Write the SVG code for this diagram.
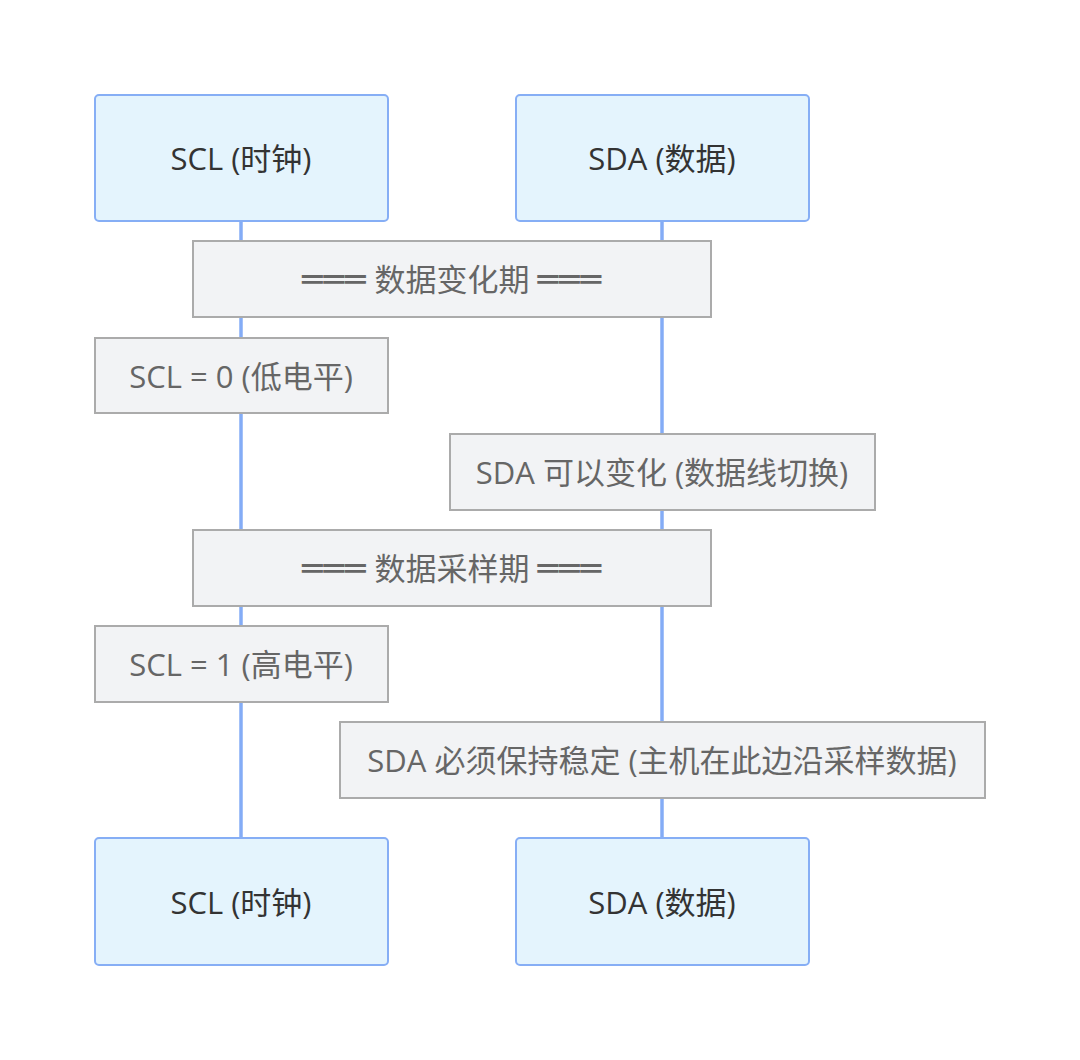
<svg xmlns="http://www.w3.org/2000/svg" width="1080" height="1060" viewBox="0 0 1080 1060">
<style>
.actor{fill:#e4f4fd;stroke:#86aef5;stroke-width:2}
.note{fill:#f2f3f5;stroke:#ababab;stroke-width:2}
.life{stroke:#84acf6;stroke-width:3.5}
.at{font-family:"Open Sans","Noto Sans CJK SC",sans-serif;font-size:31px;fill:#333;text-anchor:middle;dominant-baseline:central}
.nt{font-family:"Open Sans","Noto Sans CJK SC",sans-serif;font-size:31px;fill:#666;text-anchor:middle;dominant-baseline:central}
.bx{font-family:"DejaVu Sans Mono",monospace;font-size:34px;letter-spacing:1px}
</style>
<rect width="1080" height="1060" fill="#fff"/>
<g id="connectors">
<line class="life" x1="241" y1="221" x2="241" y2="838"/>
<line class="life" x1="662" y1="221" x2="662" y2="838"/>
</g>
<g id="scl-top"><rect class="actor" x="95" y="95" width="293" height="126" rx="4"/><text class="at" x="241" y="158">SCL (时钟)</text></g>
<g id="sda-top"><rect class="actor" x="516" y="95" width="293" height="126" rx="4"/><text class="at" x="662" y="158">SDA (数据)</text></g>
<g id="note1"><rect class="note" x="193" y="241" width="518" height="76"/><text class="nt" x="452" y="279"><tspan class="bx">═══</tspan> 数据变化期 <tspan class="bx">═══</tspan></text></g>
<g id="note2"><rect class="note" x="95" y="338" width="293" height="75"/><text class="nt" x="241" y="376">SCL = 0 (低电平)</text></g>
<g id="note3"><rect class="note" x="450" y="434" width="425" height="76"/><text class="nt" x="662" y="472">SDA 可以变化 (数据线切换)</text></g>
<g id="note4"><rect class="note" x="193" y="530" width="518" height="76"/><text class="nt" x="452" y="568"><tspan class="bx">═══</tspan> 数据采样期 <tspan class="bx">═══</tspan></text></g>
<g id="note5"><rect class="note" x="95" y="626" width="293" height="76"/><text class="nt" x="241" y="664">SCL = 1 (高电平)</text></g>
<g id="note6"><rect class="note" x="340" y="722" width="645" height="76"/><text class="nt" x="662" y="760">SDA 必须保持稳定 (主机在此边沿采样数据)</text></g>
<g id="scl-bottom"><rect class="actor" x="95" y="838" width="293" height="127" rx="4"/><text class="at" x="241" y="902">SCL (时钟)</text></g>
<g id="sda-bottom"><rect class="actor" x="516" y="838" width="293" height="127" rx="4"/><text class="at" x="662" y="902">SDA (数据)</text></g>
</svg>
